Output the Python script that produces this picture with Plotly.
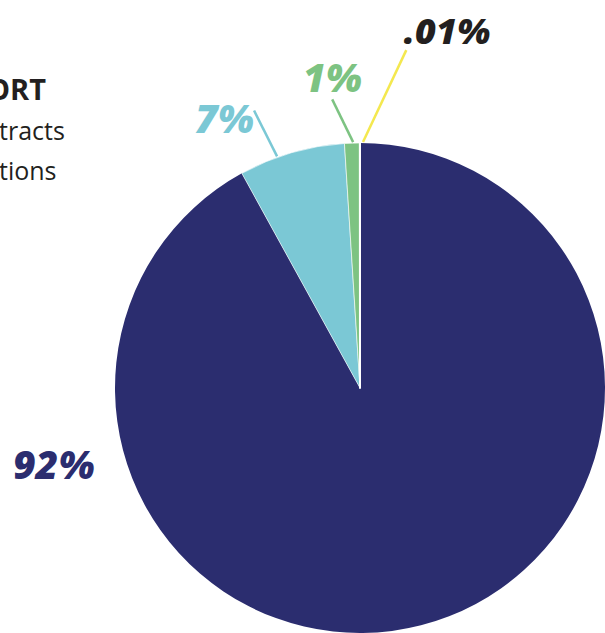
import math
import plotly.graph_objects as go

# ---- data ----
labels = ["Segment A", "Segment B", "Segment C", "Segment D"]
values = [92, 7, 1, 0.01]
value_text = ["92%", "7%", "1%", ".01%"]
side_text = ["ORT", "tracts", "tions"]

# ---- style / layout ----
W, H = 605, 633
colors = ["#2b2d6f", "#7bc8d5", "#7dc382", "#f4e84f"]
text_colors = ["#2b2d6f", "#7bc8d5", "#7dc382", "#231f20"]
CX, CY, R = 360, 388, 245  # pie centre / radius in px

label_pos = [(54, 463), (224, 117), (332, 76), (447, 31)]
label_size = [39, 39, 39, 36]
leaders = [None, (-19.7, -20.9, 297), (-1.6, -5.5, 290), (0.7, 7.8, 341)]

fig = go.Figure(go.Pie(
    labels=labels,
    values=values,
    sort=False,
    direction="clockwise",
    rotation=0,
    textinfo="none",
    hoverinfo="label+value",
    marker=dict(colors=colors, line=dict(color="white", width=[0, 0.6, 0.6, 2])),
    domain=dict(x=[(CX - R) / W, (CX + R) / W], y=[(H - CY - R) / H, (H - CY + R) / H]),
    showlegend=False,
))


def to_paper(px, py):
    return px / W, 1 - py / H


def polar(angle_deg, r):
    a = math.radians(angle_deg)
    return CX + r * math.sin(a), CY - r * math.cos(a)


shapes = []
annotations = []
for i, txt in enumerate(value_text):
    x, y = to_paper(*label_pos[i])
    annotations.append(dict(
        x=x, y=y, xref="paper", yref="paper", text=txt, showarrow=False,
        xanchor="center", yanchor="middle",
        font=dict(family="'Noto Sans', 'Open Sans', sans-serif", size=label_size[i],
                  color=text_colors[i], weight=900, style="italic"),
    ))
    if leaders[i] is not None:
        a_in, a_out, r_out = leaders[i]
        x0, y0 = to_paper(*polar(a_in, R + 1))
        x1, y1 = to_paper(*polar(a_out, r_out))
        shapes.append(dict(type="line", xref="paper", yref="paper",
                           x0=x0, y0=y0, x1=x1, y1=y1,
                           line=dict(color=colors[i], width=2.5)))

side_pos = [(-15, 89, True, 29), (-3, 130, False, 25), (-3, 170, False, 25)]
for txt, (px, py, bold, sz) in zip(side_text, side_pos):
    x, y = to_paper(px, py)
    annotations.append(dict(
        x=x, y=y, xref="paper", yref="paper", text=f"<b>{txt}</b>" if bold else txt,
        showarrow=False, xanchor="left", yanchor="middle",
        font=dict(family="'Open Sans', 'Noto Sans', sans-serif", size=sz, color="#231f20"),
    ))

fig.update_layout(
    width=W, height=H,
    margin=dict(l=0, r=0, t=0, b=0),
    paper_bgcolor="white",
    plot_bgcolor="white",
    shapes=shapes,
    annotations=annotations,
)

fig.write_html("out.html", config={"displayModeBar": False},
               post_script="document.body.style.margin='0px';")
